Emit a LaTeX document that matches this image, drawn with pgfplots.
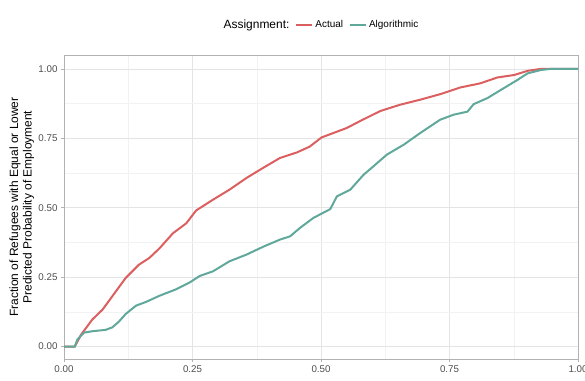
\documentclass[border=0pt]{standalone}
\usepackage{pgfplots}
\pgfplotsset{compat=1.18}
\usepackage{fontspec}
\setmainfont{Liberation Sans}
\definecolor{actual}{RGB}{220,95,95}
\definecolor{algo}{RGB}{95,168,155}
\definecolor{gridmaj}{RGB}{228,228,228}
\definecolor{gridmin}{RGB}{242,242,242}
\definecolor{border}{RGB}{178,178,178}
\definecolor{ticktext}{RGB}{77,77,77}
\begin{document}
\begin{tikzpicture}[x=1bp,y=1bp]
\useasboundingbox (0,0) rectangle (585,380);
\begin{axis}[
  at={(64bp,21bp)}, anchor=south west,
  width=514bp, height=304bp, scale only axis,
  xmin=0, xmax=1, ymin=-0.045, ymax=1.05,
  xtick={0,0.25,0.5,0.75,1}, ytick={0,0.25,0.5,0.75,1},
  xticklabels={0.00,0.25,0.50,0.75,1.00},
  yticklabels={0.00,0.25,0.50,0.75,1.00},
  minor xtick={0.125,0.375,0.625,0.875},
  minor ytick={0.125,0.375,0.625,0.875},
  grid=both,
  major grid style={gridmaj, line width=0.6bp},
  minor grid style={gridmin, line width=0.5bp},
  axis line style={border, line width=0.7bp},
  tick style={border, line width=0.6bp},
  tick align=outside, major tick length=3bp, minor tick length=0pt,
  xtick pos=bottom, ytick pos=left,
  tick label style={font=\fontsize{9.8}{11}\selectfont, text=ticktext},
  /pgf/number format/assume math mode=true,
  ylabel={Fraction of Refugees with Equal or Lower\\Predicted Probability of Employment},
  ylabel style={align=center, font=\fontsize{12}{13.5}\selectfont, at={(axis description cs:-0.058,0.5)}, anchor=south, inner sep=0pt},
  legend columns=3,
  legend style={at={(axis description cs:0.5,1.099)}, anchor=center, draw=none, fill=none,
    font=\fontsize{10}{12}\selectfont, /tikz/every even column/.append style={column sep=4bp}},
  legend cell align=left,
  legend image code/.code={\draw[#1, line width=2bp] (0bp,0bp) -- (16bp,0bp);},
]
\addlegendimage{empty legend}
\addlegendentry{\fontsize{12}{13}\selectfont Assignment:}
\addplot[actual, line width=2bp] coordinates {
(0,0) (0.021,0) (0.033,0.042) (0.055,0.097) (0.075,0.133) (0.094,0.181) (0.12,0.247) (0.146,0.295) (0.166,0.319) (0.186,0.354) (0.212,0.408) (0.238,0.444) (0.257,0.49) (0.29,0.529) (0.322,0.565) (0.355,0.607) (0.387,0.643) (0.42,0.679) (0.453,0.699) (0.478,0.72) (0.501,0.753) (0.55,0.787) (0.576,0.812) (0.615,0.848) (0.654,0.871) (0.693,0.889) (0.732,0.909) (0.771,0.933) (0.81,0.948) (0.843,0.969) (0.876,0.978) (0.902,0.993) (0.928,1.0) (1,1)
};
\addlegendentry{Actual}
\addplot[algo, line width=2bp] coordinates {
(0,0) (0.021,0) (0.026,0.025) (0.039,0.05) (0.055,0.055) (0.081,0.06) (0.094,0.069) (0.107,0.09) (0.12,0.117) (0.14,0.147) (0.16,0.161) (0.186,0.183) (0.218,0.206) (0.244,0.23) (0.264,0.254) (0.29,0.271) (0.322,0.307) (0.355,0.331) (0.387,0.359) (0.42,0.385) (0.44,0.397) (0.459,0.427) (0.485,0.463) (0.518,0.495) (0.531,0.541) (0.557,0.565) (0.583,0.619) (0.602,0.649) (0.628,0.691) (0.661,0.727) (0.693,0.769) (0.732,0.817) (0.758,0.835) (0.785,0.846) (0.797,0.873) (0.824,0.895) (0.856,0.931) (0.882,0.96) (0.902,0.984) (0.928,0.996) (0.947,1.0) (1,1)
};
\addlegendentry{Algorithmic}
\end{axis}
\end{tikzpicture}
\end{document}
